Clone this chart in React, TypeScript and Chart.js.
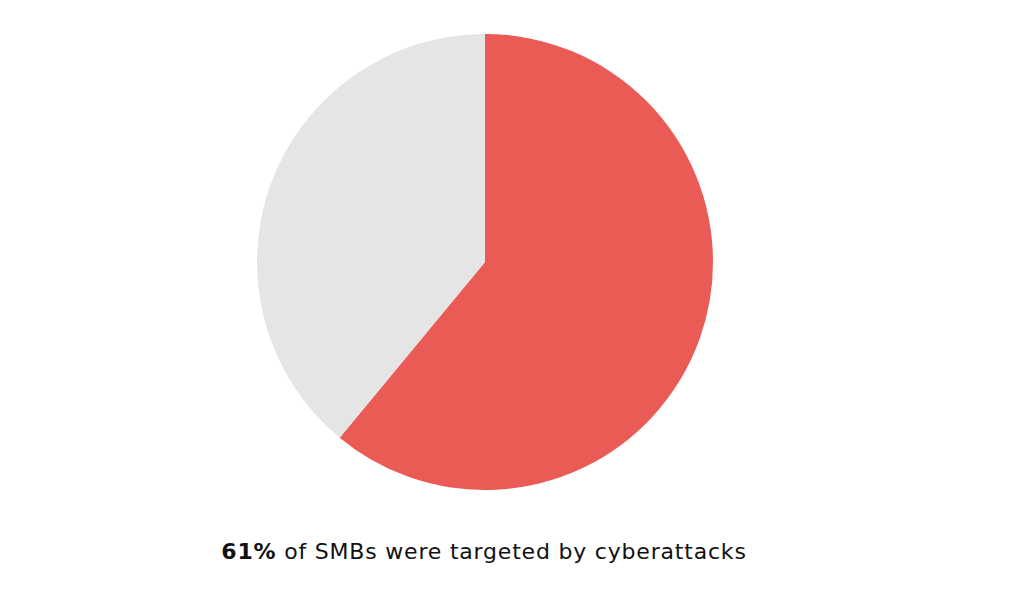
import { useRef, useEffect } from 'react';
import { Chart, registerables } from 'chart.js';

Chart.register(...registerables);

const labels = ['Targeted by cyberattacks', 'Not targeted'];
const shares = [61, 39];
const colors = ['#EB5B56', '#E5E5E5'];

const App = () => {
  const canvasRef = useRef<HTMLCanvasElement | null>(null);
  const chartRef = useRef<Chart | null>(null);

  useEffect(() => {
    document.body.style.margin = '0';
    if (!canvasRef.current) return;
    if (chartRef.current) chartRef.current.destroy();

    const ctx = canvasRef.current.getContext('2d');
    if (!ctx) return;

    chartRef.current = new Chart(ctx, {
      type: 'pie',
      data: {
        labels,
        datasets: [
          {
            data: shares,
            backgroundColor: colors,
            borderWidth: 0,
          },
        ],
      },
      options: {
        animation: false,
        responsive: true,
        maintainAspectRatio: false,
        layout: { padding: 0 },
        plugins: {
          legend: { display: false },
          tooltip: { enabled: false },
        },
      },
    });

    return () => {
      if (chartRef.current) {
        chartRef.current.destroy();
        chartRef.current = null;
      }
    };
  }, []);

  return (
    <div style={{ position: 'relative', width: 1024, height: 600, background: '#fff' }}>
      <div style={{ position: 'absolute', left: 257, top: 34, width: 456, height: 456 }}>
        <canvas ref={canvasRef}></canvas>
      </div>
      <div
        style={{
          position: 'absolute',
          left: 0,
          width: 968,
          top: 539,
          textAlign: 'center',
          fontFamily: '"DejaVu Sans", sans-serif',
          fontSize: 22,
          color: '#111',
          letterSpacing: 0.8,
        }}
      >
        <b>61%</b> of SMBs were targeted by cyberattacks
      </div>
    </div>
  );
};

export default App;
